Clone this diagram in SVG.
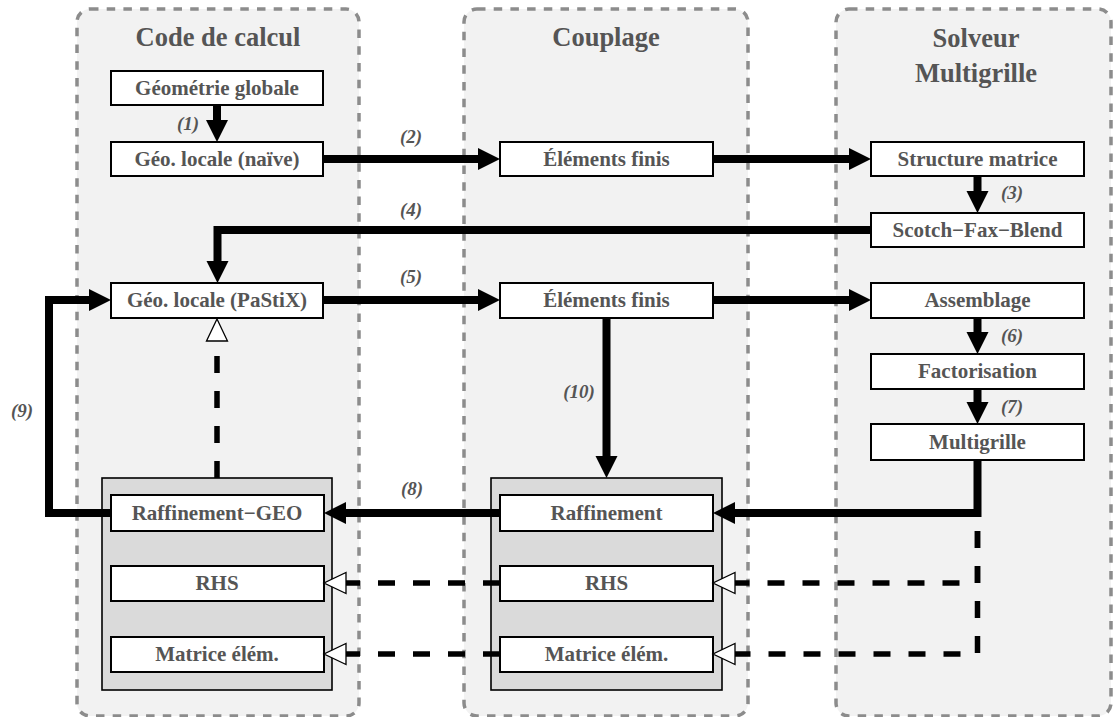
<svg xmlns="http://www.w3.org/2000/svg" width="1115" height="717" viewBox="0 0 1115 717">
  <style>
    .lane { fill: #f2f2f2; stroke: #8c8c8c; stroke-width: 3.5; stroke-dasharray: 8.5 8.2; }
    .title { font-family: 'Liberation Serif', 'DejaVu Serif', serif; font-weight: bold; font-size: 26.5px; fill: #555555; text-anchor: middle; }
    .box { fill: #ffffff; stroke: #000000; stroke-width: 2; }
    .group { fill: #dadada; stroke: #000000; stroke-width: 1.6; }
    .label { font-family: 'Liberation Serif', 'DejaVu Serif', serif; font-weight: bold; font-size: 21px; fill: #555555; text-anchor: middle; }
    .step { font-family: 'Liberation Serif', 'DejaVu Serif', serif; font-weight: bold; font-style: italic; font-size: 19px; fill: #555555; text-anchor: middle; }
    .flow { fill: none; stroke: #000000; stroke-width: 8; marker-end: url(#solid); }
    .link { fill: none; stroke: #000000; stroke-width: 5.5; stroke-dasharray: 17 18; marker-end: url(#hollow); }
  </style>
  <defs>
    <marker id="solid" markerUnits="userSpaceOnUse" viewBox="0 -11 22 22" refX="0" refY="0" markerWidth="22" markerHeight="22" orient="auto" overflow="visible">
      <path d="M0,-11 L22,0 L0,11 z" fill="#000000"/>
    </marker>
    <marker id="hollow" markerUnits="userSpaceOnUse" viewBox="0 -11 22 22" refX="0" refY="0" markerWidth="22" markerHeight="22" orient="auto" overflow="visible">
      <path d="M0,-10.5 L22,0 L0,10.5 z" fill="#ffffff" stroke="#000000" stroke-width="1.3" stroke-dasharray="none"/>
    </marker>
  </defs>

  <!-- swimlanes -->
  <g id="lane-code">
    <rect class="lane" x="77" y="9" width="282" height="707" rx="13"/>
    <text class="title" x="218" y="46">Code de calcul</text>
  </g>
  <g id="lane-couplage">
    <rect class="lane" x="464" y="9" width="284" height="707" rx="13"/>
    <text class="title" x="606" y="46">Couplage</text>
  </g>
  <g id="lane-solveur">
    <rect class="lane" x="836" y="9" width="275" height="707" rx="13"/>
    <text class="title" x="976" y="47">Solveur</text>
    <text class="title" x="976" y="82">Multigrille</text>
  </g>

  <!-- refinement containers -->
  <g id="groupe-code">
    <rect class="group" x="102" y="478" width="230" height="212"/>
  </g>
  <g id="groupe-couplage">
    <rect class="group" x="491" y="478" width="231" height="212"/>
  </g>

  <!-- nodes: Code de calcul -->
  <g id="geometrie-globale">
    <rect class="box" x="111" y="71" width="212" height="34"/>
    <text class="label" x="217" y="95">Géométrie globale</text>
  </g>
  <g id="geo-locale-naive">
    <rect class="box" x="111" y="142" width="212" height="34"/>
    <text class="label" x="217" y="166">Géo. locale (naïve)</text>
  </g>
  <g id="geo-locale-pastix">
    <rect class="box" x="111" y="283" width="212" height="35"/>
    <text class="label" x="217" y="307">Géo. locale (PaStiX)</text>
  </g>
  <g id="raffinement-geo">
    <rect class="box" x="111" y="495" width="213" height="36"/>
    <text class="label" x="217" y="520">Raffinement−GEO</text>
  </g>
  <g id="rhs-code">
    <rect class="box" x="111" y="566" width="213" height="35"/>
    <text class="label" x="217" y="590">RHS</text>
  </g>
  <g id="matrice-code">
    <rect class="box" x="111" y="637" width="213" height="35"/>
    <text class="label" x="217" y="661">Matrice élém.</text>
  </g>

  <!-- nodes: Couplage -->
  <g id="elements-finis-1">
    <rect class="box" x="500" y="142" width="213" height="34"/>
    <text class="label" x="606.5" y="166">Éléments finis</text>
  </g>
  <g id="elements-finis-2">
    <rect class="box" x="500" y="283" width="213" height="35"/>
    <text class="label" x="606.5" y="307">Éléments finis</text>
  </g>
  <g id="raffinement">
    <rect class="box" x="500" y="495" width="213" height="36"/>
    <text class="label" x="606.5" y="520">Raffinement</text>
  </g>
  <g id="rhs-couplage">
    <rect class="box" x="500" y="566" width="213" height="35"/>
    <text class="label" x="606.5" y="590">RHS</text>
  </g>
  <g id="matrice-couplage">
    <rect class="box" x="500" y="637" width="213" height="35"/>
    <text class="label" x="606.5" y="661">Matrice élém.</text>
  </g>

  <!-- nodes: Solveur Multigrille -->
  <g id="structure-matrice">
    <rect class="box" x="871" y="142" width="213" height="34"/>
    <text class="label" x="977.5" y="166">Structure matrice</text>
  </g>
  <g id="scotch-fax-blend">
    <rect class="box" x="871" y="213" width="213" height="34"/>
    <text class="label" x="977.5" y="237">Scotch−Fax−Blend</text>
  </g>
  <g id="assemblage">
    <rect class="box" x="871" y="283" width="213" height="35"/>
    <text class="label" x="977.5" y="307">Assemblage</text>
  </g>
  <g id="factorisation">
    <rect class="box" x="871" y="354" width="213" height="35"/>
    <text class="label" x="977.5" y="378">Factorisation</text>
  </g>
  <g id="multigrille">
    <rect class="box" x="871" y="424" width="213" height="36"/>
    <text class="label" x="977.5" y="449">Multigrille</text>
  </g>

  <!-- connectors -->
  <g id="connectors">
    <path class="flow" d="M217,105 V120"/>
    <path class="flow" d="M323,159 H478"/>
    <path class="flow" d="M713,159 H849"/>
    <path class="flow" d="M977.5,176 V191"/>
    <path class="flow" d="M871,230 H217.5 V261"/>
    <path class="flow" d="M323,300 H478"/>
    <path class="flow" d="M713,300 H849"/>
    <path class="flow" d="M977.5,318 V332"/>
    <path class="flow" d="M977.5,389 V402"/>
    <path class="flow" d="M606.5,318 V456"/>
    <path class="flow" d="M977.5,460 V513 H735"/>
    <path class="flow" d="M500,513 H346"/>
    <path class="flow" d="M111,513 H49 V300 H89"/>
    <path class="link" d="M217,478 V341"/>
    <path class="link" d="M977.5,513 V583 H735" stroke-dashoffset="17"/>
    <path class="link" d="M977.5,513 V654 H735" stroke-dashoffset="17"/>
    <path class="link" d="M500,583 H346"/>
    <path class="link" d="M500,654 H346"/>
  </g>

  <!-- step numbers -->
  <g id="steps">
    <text class="step" x="188" y="130">(1)</text>
    <text class="step" x="411" y="143">(2)</text>
    <text class="step" x="1012" y="199">(3)</text>
    <text class="step" x="411" y="216">(4)</text>
    <text class="step" x="411" y="283">(5)</text>
    <text class="step" x="1012" y="342">(6)</text>
    <text class="step" x="1012" y="413">(7)</text>
    <text class="step" x="412" y="495">(8)</text>
    <text class="step" x="22" y="417">(9)</text>
    <text class="step" x="579" y="398">(10)</text>
  </g>
</svg>
